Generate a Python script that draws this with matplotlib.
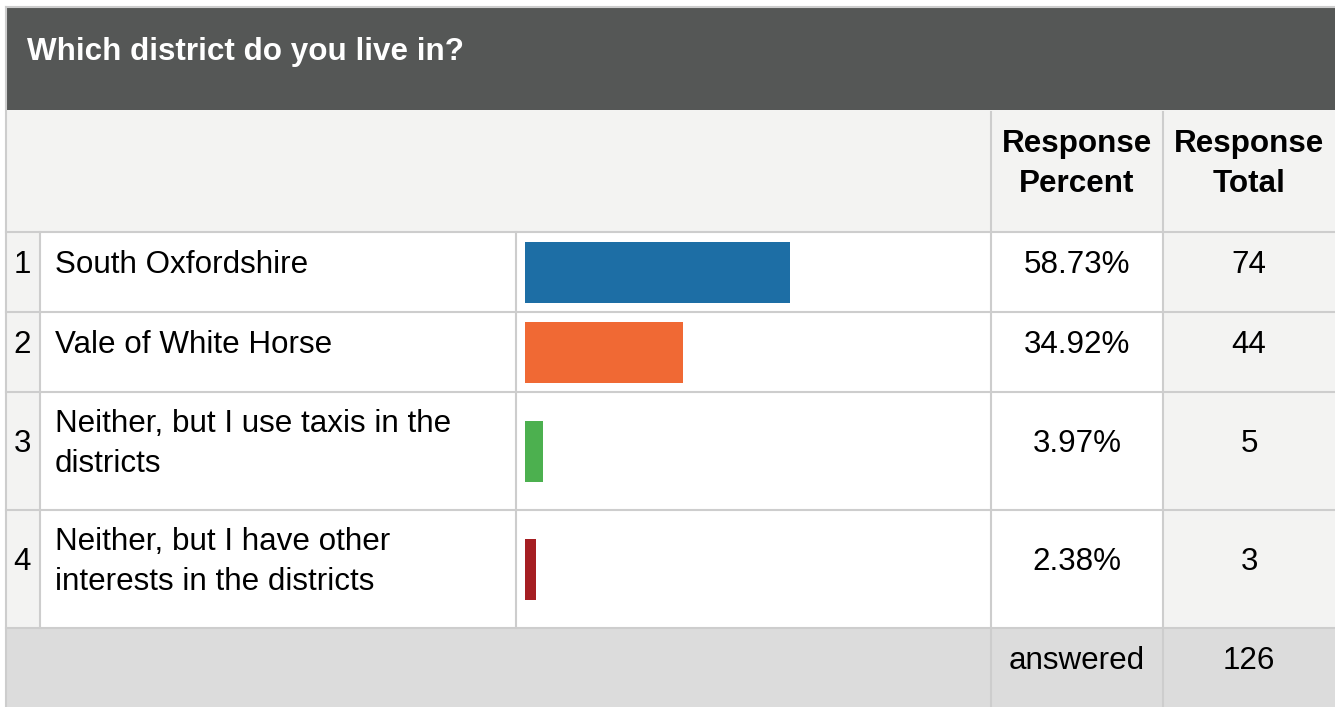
import matplotlib
matplotlib.use("Agg")
import matplotlib.pyplot as plt
from matplotlib.patches import Rectangle

plt.rcParams['font.family'] = ['Liberation Sans', 'DejaVu Sans']

# dados da pergunta
titulo = "Which district do you live in?"
numeros = ["1", "2", "3", "4"]
respostas = ["South Oxfordshire", "Vale of White Horse",
             "Neither, but I use taxis in the\ndistricts",
             "Neither, but I have other\ninterests in the districts"]
percentuais = [58.73, 34.92, 3.97, 2.38]
totais = [74, 44, 5, 3]
total_respondido = 126
cores = ["#1d6ea5", "#f06934", "#4cb04f", "#a51e22"]

W, H = 1335, 707
fs = 22.6
esp = 1.42
linha = "#cdcdcd"
cinza_claro = "#f3f3f2"

fig = plt.figure(figsize=(W / 100, H / 100), dpi=100)
ax = fig.add_axes([0, 0, 1, 1])
ax.set_xlim(0, W)
ax.set_ylim(H, 0)
ax.axis('off')

# layout da tabela (em pixels)
x0, x_num, x_lab, x_bar, x_pct, x_tot, x1 = 6, 40, 516, 991, 1163, 1335, 1335
y_topo, y_cab, y_linhas = 8, 110, 232
alturas = [80, 80, 118, 118]
y_lin = [y_linhas]
for a in alturas:
    y_lin.append(y_lin[-1] + a)
y_rod = y_lin[-1]

# cabeçalho escuro
ax.add_patch(Rectangle((x0, y_topo), x1 - x0, y_cab - y_topo, color="#555756", lw=0))
ax.text(27, 60, titulo, color="white", fontsize=fs, fontweight="bold", va="baseline", ha="left")

# linha de cabeçalho das colunas
ax.add_patch(Rectangle((x0, y_cab), x1 - x0, y_linhas - y_cab, color=cinza_claro, lw=0))
for xc, rotulo in [((x_pct + x_bar) / 2, "Response\nPercent"), ((x_tot + x_pct) / 2, "Response\nTotal")]:
    ax.text(xc, 164, rotulo, fontsize=fs, fontweight="bold", ha="center", va="center", linespacing=esp)

# linhas de dados
for i in range(len(respostas)):
    topo, base = y_lin[i], y_lin[i + 1]
    ax.add_patch(Rectangle((x0, topo), x_num - x0, base - topo, color=cinza_claro, lw=0))
    ax.add_patch(Rectangle((x_num, topo), x_pct - x_num, base - topo, color="white", lw=0))
    ax.add_patch(Rectangle((x_pct, topo), x1 - x_pct, base - topo, color=cinza_claro, lw=0))
    yc = topo + (33 if "\n" not in respostas[i] else 52)
    ax.text(22, yc, numeros[i], fontsize=fs, ha="center", va="center")
    ax.text(55, yc, respostas[i], fontsize=fs, ha="left", va="center", linespacing=esp)
    ax.text((x_pct + x_bar) / 2, yc, f"{percentuais[i]:.2f}%", fontsize=fs, ha="center", va="center")
    ax.text((x_tot + x_pct) / 2, yc, str(totais[i]), fontsize=fs, ha="center", va="center")

# rodapé
ax.add_patch(Rectangle((x0, y_rod), x1 - x0, H - y_rod, color="#dcdcdc", lw=0))
ax.text((x_pct + x_bar) / 2, 661, "answered", fontsize=fs, ha="center", va="center")
ax.text((x_tot + x_pct) / 2, 661, str(total_respondido), fontsize=fs, ha="center", va="center")

# grade
lw = 1.5
ax.plot([x0, x0], [y_topo - 1, H], color=linha, lw=lw)
ax.plot([x0, x1], [y_topo - 1, y_topo - 1], color=linha, lw=lw)
for y in y_lin:
    ax.plot([x0, x1], [y, y], color=linha, lw=lw)
for x in [x_num, x_lab]:
    ax.plot([x, x], [y_linhas, y_rod], color=linha, lw=lw)
for x in [x_bar, x_pct]:
    ax.plot([x, x], [y_cab + 2, H], color=linha, lw=lw)

# barras em eixo próprio
axb = fig.add_axes([x_lab / W, (H - y_rod) / H, (x_bar - x_lab) / W, (y_rod - y_linhas) / H])
axb.set_xlim(-2.0, 103.3)
axb.set_ylim(y_rod, y_linhas)
axb.axis('off')
centros = [(y_lin[i] + y_lin[i + 1]) / 2 + 0.5 for i in range(len(percentuais))]
axb.barh(centros, percentuais, height=61, color=cores)

fig.savefig("out.png", dpi=100)
